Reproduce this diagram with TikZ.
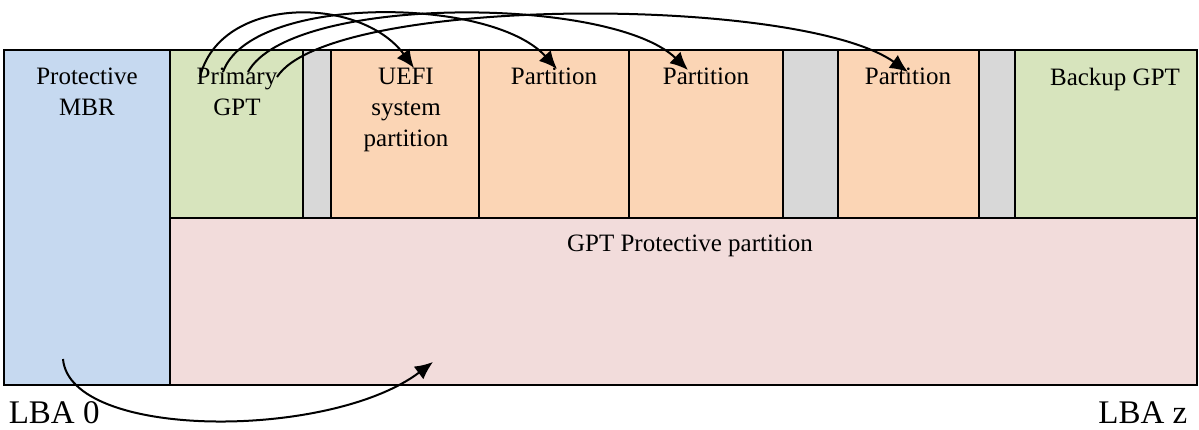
\documentclass[tikz,border=0pt]{standalone}
\usepackage{fontspec}
\setmainfont{Liberation Serif}
\usetikzlibrary{arrows.meta}

\definecolor{mbrblue}{RGB}{198,217,240}
\definecolor{gptgreen}{RGB}{215,228,189}
\definecolor{gapgray}{RGB}{216,216,216}
\definecolor{partorange}{RGB}{251,213,181}
\definecolor{protpink}{RGB}{242,220,219}

\tikzset{every picture/.style={line width=0.75pt}}
\tikzset{
  blk/.style={draw=black,line width=0.75pt},
  lbl/.style={anchor=north,inner sep=0pt,align=center,font=\fontsize{12.5}{15.5}\selectfont},
  lba/.style={inner sep=0pt,font=\fontsize{16.5}{18}\selectfont},
  ptr/.style={line width=1pt,-{Latex[length=9pt,width=8pt]}}
}

\begin{document}
\begin{tikzpicture}[x=0.5pt,y=0.5pt,yscale=-1,xscale=1]
    \useasboundingbox (0,0) rectangle (1199,429);

    %Shape: Protective MBR
    \draw [blk,fill=mbrblue] (4,50) rectangle (170,385);
    %Shape: GPT Protective partition
    \draw [blk,fill=protpink] (170,218) rectangle (1197,385);
    %Shape: Primary GPT
    \draw [blk,fill=gptgreen] (170,50) rectangle (303,218);
    %Shape: gaps
    \draw [blk,fill=gapgray] (303,50) rectangle (331,218);
    \draw [blk,fill=gapgray] (783,50) rectangle (838,218);
    \draw [blk,fill=gapgray] (979,50) rectangle (1015,218);
    %Shape: partitions
    \draw [blk,fill=partorange] (331,50) rectangle (479,218);
    \draw [blk,fill=partorange] (479,50) rectangle (629,218);
    \draw [blk,fill=partorange] (629,50) rectangle (783,218);
    \draw [blk,fill=partorange] (838,50) rectangle (979,218);
    %Shape: Backup GPT
    \draw [blk,fill=gptgreen] (1015,50) rectangle (1197,218);

    % Text Node
    \node (mbr) [lbl] at (87,67) {Protective\\MBR};
    % Text Node
    \node (pgpt) [lbl] at (237,67) {Primary\\GPT};
    % Text Node
    \node (uefi) [lbl] at (406,67) {UEFI\\system\\partition};
    % Text Node
    \node (part1) [lbl] at (554,67) {Partition};
    % Text Node
    \node (part2) [lbl] at (706,67) {Partition};
    % Text Node
    \node (part3) [lbl] at (908,67) {Partition};
    % Text Node
    \node (bgpt) [lbl] at (1115,67) {Backup GPT};
    % Text Node
    \node (prot) [lbl] at (690,234) {GPT Protective partition};
    % Text Node
    \node (lba0) [lba,anchor=base west] at (8,423) {LBA 0};
    % Text Node
    \node (lbaz) [lba,anchor=base east] at (1188,423) {LBA z};

    %Curve Lines: pointers out of the primary GPT
    \coordinate (s1) at (200,77);
    \coordinate (s2) at (223,72);
    \coordinate (s3) at (248,72);
    \coordinate (s4) at (277,77);
    \coordinate (t1) at (414,68);
    \coordinate (t2) at (557,69);
    \coordinate (t3) at (688,70);
    \coordinate (t4) at (908,72);
    \draw [ptr] (s1) .. controls (220,-5) and (360,-5) .. (t1);
    \draw [ptr] (s2) .. controls (250,-5) and (490,-5) .. (t2);
    \draw [ptr] (s3) .. controls (290,-5) and (610,-5) .. (t3);
    \draw [ptr] (s4) .. controls (330,-5) and (800,-5) .. (t4);

    %Curve Lines: pointer out of the protective MBR
    \coordinate (m1) at (63,359);
    \coordinate (m2) at (433,362);
    \draw [ptr] (m1) .. controls (70,440) and (330,440) .. (m2);

\end{tikzpicture}
\end{document}
